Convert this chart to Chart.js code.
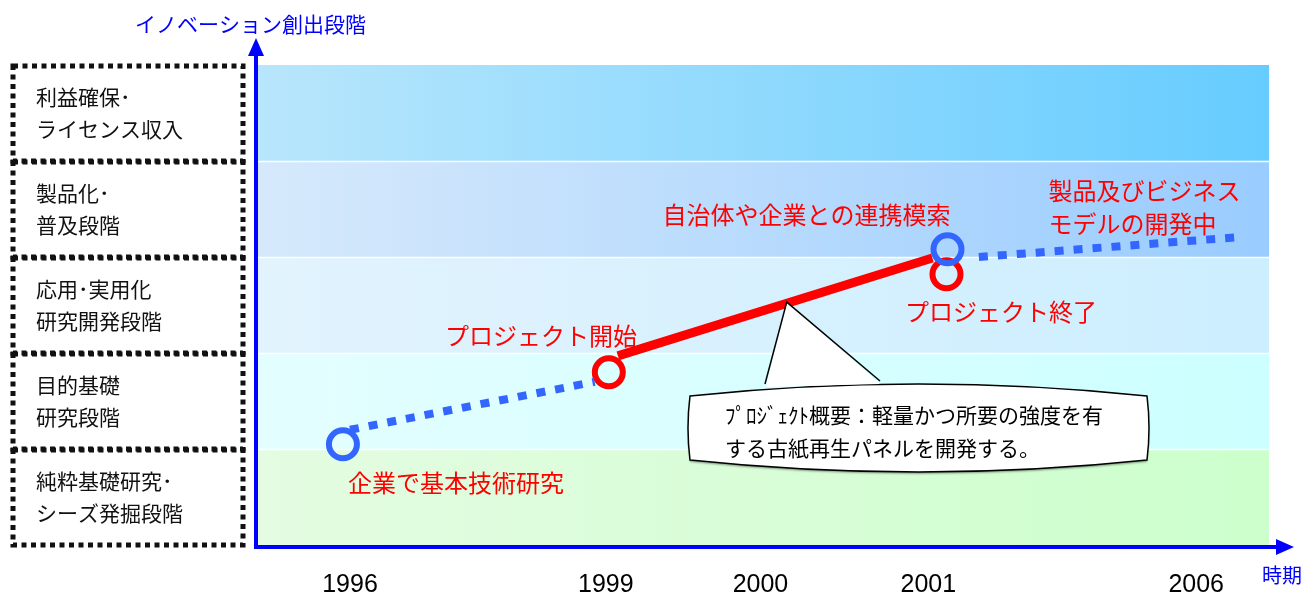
<!DOCTYPE html>
<html>
<head>
<meta charset="utf-8">
<script src="https://cdn.jsdelivr.net/npm/chart.js@4/dist/chart.umd.min.js"></script>
<style>
  html, body { margin: 0; padding: 0; background: #ffffff; }
  #wrap { width: 1312px; height: 595px; }
</style>
</head>
<body>
<div id="wrap"><canvas id="roadmap" width="1312" height="595"></canvas></div>
<script>
// x axis: years sit at uneven places along the time line (0..100)
const years = ["1996", "1999", "2000", "2001", "2006"];
const yearPos = [9.1, 34.4, 49.7, 66.3, 92.8];

// y axis: innovation stages, bottom to top (each band = 1 unit)
const stages = [
    ["純粋基礎研究･", "シーズ発掘段階"],
    ["目的基礎", "研究段階"],
    ["応用･実用化", "研究開発段階"],
    ["製品化･", "普及段階"],
    ["利益確保･", "ライセンス収入"]
];
const stagePos = [0.5, 1.5, 2.5, 3.5, 4.5];

// path segments (x in time units, y in stage units)
const seedX = [9.1, 33.3];
const seedY = [1.20, 1.70];
const projectX = [35.6, 66.7];
const projectY = [1.97, 2.99];
const productX = [71.3, 97.4];
const productY = [3.00, 3.21];

// milestone rings
const blueX = [8.4, 68.2];
const blueY = [1.05, 3.08];
const redX = [34.7, 68.1];
const redY = [1.80, 2.82];

// red notes: text, anchor (left edge, middle)
const notes = [
    { text: "企業で基本技術研究", x: 8.9, y: 0.65 },
    { text: "プロジェクト開始", x: 18.5, y: 2.18 },
    { text: "自治体や企業との連携模索", x: 40.0, y: 3.44 },
    { text: "製品及びビジネス", x: 78.2, y: 3.69 },
    { text: "モデルの開発中", x: 78.2, y: 3.34 },
    { text: "プロジェクト終了", x: 64.0, y: 2.43 }
];

const callout = [
    "ﾌﾟﾛｼﾞｪｸﾄ概要：軽量かつ所要の強度を有",
    "する古紙再生パネルを開発する。"
];

const bandColors = [
    ["#e4fce2", "#ccffcc"],
    ["#e4feff", "#ccffff"],
    ["#e2f3fd", "#cceeff"],
    ["#d6e9fb", "#99ccff"],
    ["#b8e6fc", "#66ccff"]
];

const JP = '"Noto Sans CJK JP", "Noto Sans CJK SC", sans-serif';

function pairs(xs, ys) {
    return xs.map((x, i) => ({ x: x, y: ys[i] }));
}

const backdrop = {
    id: "backdrop",
    beforeDraw(chart) {
        const ctx = chart.ctx;
        const area = chart.chartArea;
        const y = chart.scales.y;

        ctx.save();
        ctx.fillStyle = "#ffffff";
        ctx.fillRect(0, 0, chart.width, chart.height);

        // gradient bands
        bandColors.forEach((c, i) => {
            const top = y.getPixelForValue(i + 1);
            const bottom = y.getPixelForValue(i);
            const g = ctx.createLinearGradient(area.left, 0, area.right, 0);
            g.addColorStop(0, c[0]);
            g.addColorStop(1, c[1]);
            ctx.fillStyle = g;
            ctx.fillRect(area.left, top, area.right - area.left, bottom - top);
        });

        ctx.strokeStyle = "#ffffff";
        ctx.lineWidth = 1.5;
        for (let i = 1; i < bandColors.length; i++) {
            const p = Math.round(y.getPixelForValue(i)) + 0.5;
            ctx.beginPath();
            ctx.moveTo(area.left, p);
            ctx.lineTo(area.right, p);
            ctx.stroke();
        }

        // dotted boxes behind the stage labels
        ctx.strokeStyle = "#111111";
        ctx.lineWidth = 5;
        ctx.setLineDash([5, 4.5]);
        stages.forEach((s, i) => {
            const top = y.getPixelForValue(i + 1);
            const bottom = y.getPixelForValue(i);
            ctx.strokeRect(13, top + 1, 230, bottom - top - 1);
        });
        ctx.restore();
    },

    afterDatasetsDraw(chart) {
        const ctx = chart.ctx;
        const area = chart.chartArea;
        const xs = chart.scales.x;
        const ys = chart.scales.y;

        ctx.save();

        // axes with arrow heads
        const ax = area.left - 2;
        const ay = area.bottom + 2;
        ctx.strokeStyle = "#0000ff";
        ctx.fillStyle = "#0000ff";
        ctx.lineWidth = 4;
        ctx.beginPath();
        ctx.moveTo(ax, ay + 2);
        ctx.lineTo(ax, 54);
        ctx.moveTo(ax - 2, ay);
        ctx.lineTo(1278, ay);
        ctx.stroke();
        ctx.beginPath();
        ctx.moveTo(ax, 38);
        ctx.lineTo(ax - 8, 56);
        ctx.lineTo(ax + 8, 56);
        ctx.closePath();
        ctx.fill();
        ctx.beginPath();
        ctx.moveTo(1294, ay);
        ctx.lineTo(1276, ay - 8);
        ctx.lineTo(1276, ay + 8);
        ctx.closePath();
        ctx.fill();

        ctx.font = "21px " + JP;
        ctx.textBaseline = "middle";
        ctx.textAlign = "left";
        ctx.fillText("イノベーション創出段階", 135, 24);
        ctx.font = "20px " + JP;
        ctx.fillText("時期", 1262, 575);

        // red notes
        ctx.fillStyle = "#ff0000";
        ctx.font = "24px " + JP;
        notes.forEach(n => {
            ctx.fillText(n.text, xs.getPixelForValue(n.x), ys.getPixelForValue(n.y));
        });

        // speech bubble
        const L = 690, R = 1147, T = 388, B = 468;
        const tipX = xs.getPixelForValue(52.3);
        const tipY = ys.getPixelForValue(2.53);

        ctx.lineWidth = 1.5;
        ctx.strokeStyle = "#000000";
        ctx.fillStyle = "#ffffff";
        ctx.shadowColor = "rgba(0,0,0,0.35)";
        ctx.shadowOffsetY = 2;
        ctx.shadowBlur = 2;
        ctx.beginPath();
        ctx.moveTo(L, T + 8);
        ctx.quadraticCurveTo((L + R) / 2, T - 16, R, T + 8);
        ctx.quadraticCurveTo(R + 4, (T + B) / 2, R, B - 8);
        ctx.quadraticCurveTo((L + R) / 2, B + 16, L, B - 8);
        ctx.quadraticCurveTo(L - 4, (T + B) / 2, L, T + 8);
        ctx.closePath();
        ctx.fill();
        ctx.shadowColor = "transparent";
        ctx.stroke();

        ctx.beginPath();
        ctx.moveTo(766, 387);
        ctx.lineTo(tipX, tipY);
        ctx.lineTo(880, 384);
        ctx.closePath();
        ctx.fill();
        ctx.beginPath();
        ctx.moveTo(765, 384);
        ctx.lineTo(tipX, tipY);
        ctx.lineTo(880, 381);
        ctx.stroke();

        ctx.fillStyle = "#000000";
        ctx.font = "21px " + JP;
        ctx.fillText(callout[0], 725, 415);
        ctx.fillText(callout[1], 725, 448);

        ctx.restore();
    }
};

new Chart(
    document.getElementById("roadmap"),
    {
        type: "line",
        data: {
            datasets: [
                {
                    data: pairs(seedX, seedY),
                    borderColor: "#3366ff",
                    borderWidth: 8,
                    borderDash: [9, 10],
                    borderCapStyle: "butt",
                    pointRadius: 0
                },
                {
                    data: pairs(projectX, projectY),
                    borderColor: "#ff0000",
                    borderWidth: 9,
                    pointRadius: 0
                },
                {
                    data: pairs(productX, productY),
                    borderColor: "#3366ff",
                    borderWidth: 8,
                    borderDash: [9, 10],
                    borderCapStyle: "butt",
                    pointRadius: 0
                },
                {
                    data: pairs(blueX, blueY),
                    showLine: false,
                    pointRadius: 14,
                    pointBorderWidth: 6,
                    pointBorderColor: "#3366ff",
                    pointBackgroundColor: "rgba(0,0,0,0)"
                },
                {
                    data: pairs(redX, redY),
                    showLine: false,
                    pointRadius: 14,
                    pointBorderWidth: 6,
                    pointBorderColor: "#ff0000",
                    pointBackgroundColor: "rgba(0,0,0,0)"
                }
            ]
        },
        options: {
            responsive: false,
            animation: false,
            clip: false,
            layout: {
                padding: { left: 36, top: 65, right: 43, bottom: 0 }
            },
            plugins: {
                legend: { display: false },
                tooltip: { enabled: false }
            },
            scales: {
                x: {
                    type: "linear",
                    min: 0,
                    max: 100,
                    grid: { display: false, drawTicks: false },
                    border: { display: false },
                    afterBuildTicks: s => {
                        s.ticks = yearPos.map(v => ({ value: v }));
                    },
                    afterFit: s => {
                        s.height = 50;
                    },
                    ticks: {
                        autoSkip: false,
                        maxRotation: 0,
                        padding: 28,
                        color: "#000000",
                        font: {
                            family: '"Liberation Sans Narrow", "Liberation Sans", Arial, sans-serif',
                            size: 25,
                            lineHeight: 1
                        },
                        callback: (v, i) => years[i]
                    }
                },
                y: {
                    type: "linear",
                    min: 0,
                    max: 5,
                    grid: { display: false, drawTicks: false },
                    border: { display: false },
                    afterBuildTicks: s => {
                        s.ticks = stagePos.map(v => ({ value: v }));
                    },
                    afterFit: s => {
                        s.width = 222;
                    },
                    ticks: {
                        autoSkip: false,
                        crossAlign: "far",
                        color: "#111111",
                        font: {
                            family: '"Noto Sans CJK JP", sans-serif',
                            size: 21,
                            lineHeight: 1.5
                        },
                        callback: (v, i) => stages[i]
                    }
                }
            }
        },
        plugins: [backdrop]
    }
);
</script>
</body>
</html>
